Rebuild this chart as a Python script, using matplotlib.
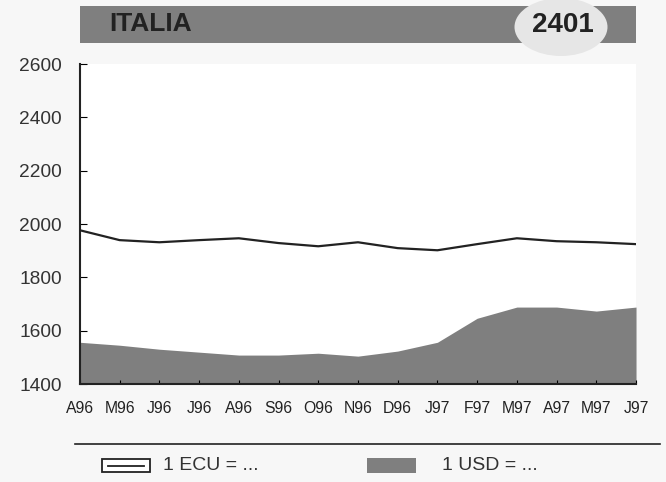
import matplotlib.pyplot as plt
from matplotlib.patches import Rectangle, Ellipse
from matplotlib.lines import Line2D

plt.rcParams["font.family"] = ["Liberation Sans", "DejaVu Sans"]

GREY = "#7f7f7f"
DARK = "#222222"
W, H = 666, 482

months = ["A96", "M96", "J96", "J96", "A96", "S96", "O96", "N96", "D96",
          "J97", "F97", "M97", "A97", "M97", "J97"]
ecu = [1977, 1940, 1932, 1940, 1947, 1929, 1917, 1932, 1910, 1902,
       1925, 1947, 1936, 1932, 1925]
usd = [1557, 1546, 1531, 1520, 1509, 1509, 1516, 1505, 1524, 1557,
       1647, 1689, 1689, 1674, 1689]
yticks = [1400, 1600, 1800, 2000, 2200, 2400, 2600]


def fx(px):
    return px / W


def fy(py):
    return 1 - py / H


fig = plt.figure(figsize=(6.66, 4.82), dpi=100, facecolor="#f7f7f7")
ax = fig.add_axes([0.120, 0.203, 0.835, 0.664])
ax.set_facecolor("white")

x = list(range(len(months)))
ax.fill_between(x, 1400, usd, color=GREY, lw=0)
ax.plot(x, ecu, color=DARK, lw=1.6)

ax.set_xlim(0, len(months) - 1)
ax.set_ylim(1400, 2600)
ax.set_yticks(yticks)
ax.set_xticks(x)
ax.set_xticklabels(months, fontsize=11.3, color=DARK)
ax.tick_params(axis="y", direction="in", length=5, labelsize=13.8,
               labelcolor="#333333", pad=13)
ax.tick_params(axis="x", direction="in", length=3, pad=12)
for s in ["top", "right"]:
    ax.spines[s].set_visible(False)
for s in ["left", "bottom"]:
    ax.spines[s].set_linewidth(1.5)
    ax.spines[s].set_color(DARK)

# header bar
fig.patches.append(Rectangle((fx(80), fy(43)), fx(556), 37 / H,
                             transform=fig.transFigure, color=GREY, lw=0))
fig.patches.append(Ellipse((fx(561), fy(27)), fx(93), 58 / H,
                           transform=fig.transFigure, color="#e6e6e6", lw=0))
fig.text(fx(109), fy(24), "ITALIA", fontsize=19, fontweight="bold",
         color=DARK, va="center")
fig.text(fx(563), fy(25.5), "2401", fontsize=20, fontweight="bold",
         color=DARK, va="center", ha="center")

# legend area
fig.add_artist(Line2D([fx(75), fx(660)], [fy(444), fy(444)],
                      transform=fig.transFigure, color=DARK, lw=1.2))
fig.patches.append(Rectangle((fx(102), fy(472)), fx(48), 13 / H,
                             transform=fig.transFigure, facecolor="white",
                             edgecolor=DARK, lw=1.3))
fig.add_artist(Line2D([fx(108), fx(144)], [fy(465.5), fy(465.5)],
                      transform=fig.transFigure, color=DARK, lw=1.3))
fig.text(fx(163), fy(466), "1 ECU = ...", fontsize=14,
         color="#333333", va="center")
fig.patches.append(Rectangle((fx(367), fy(473)), fx(49), 15 / H,
                             transform=fig.transFigure, color=GREY, lw=0))
fig.text(fx(442), fy(466), "1 USD = ...", fontsize=14,
         color="#333333", va="center")

fig.savefig("out.png", dpi=100, facecolor=fig.get_facecolor())
